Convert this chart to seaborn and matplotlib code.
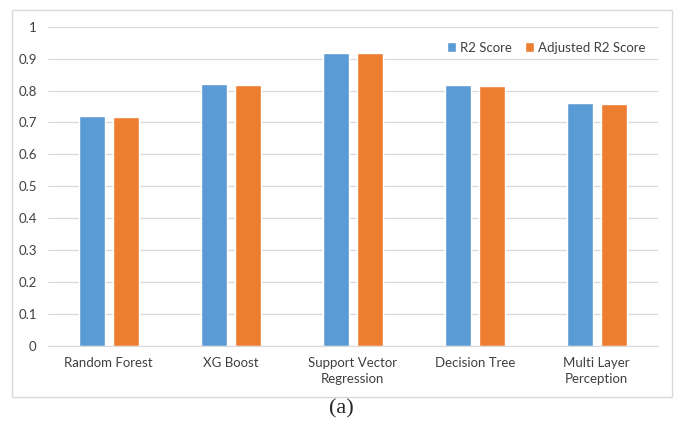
import pandas as pd
import seaborn as sns
import matplotlib
matplotlib.use("Agg")
import matplotlib.pyplot as plt
from matplotlib.patches import Rectangle

# values
models = ["Random Forest", "XG Boost", "Support Vector\nRegression",
          "Decision Tree", "Multi Layer\nPerception"]
r2_score = [0.720, 0.819, 0.918, 0.816, 0.762]
adj_r2_score = [0.718, 0.816, 0.917, 0.813, 0.759]
series_names = ["R2 Score", "Adjusted R2 Score"]
y_ticks = [0, 0.1, 0.2, 0.3, 0.4, 0.5, 0.6, 0.7, 0.8, 0.9, 1]

df = pd.DataFrame({
    "model": models * 2,
    "score": r2_score + adj_r2_score,
    "metric": [series_names[0]] * len(models) + [series_names[1]] * len(models),
})

sns.set_style("white")
plt.rcParams["font.family"] = ["Lato", "DejaVu Sans"]

fig = plt.figure(figsize=(6.83, 4.23), dpi=100)
ax = fig.add_axes([0.070, 0.182, 0.893, 0.755])

# outer chart frame
fig.patches.append(Rectangle((12 / 683, 1 - 397 / 423), 660 / 683, 387 / 423,
                             transform=fig.transFigure, fill=False,
                             edgecolor="#d9d9d9", linewidth=1.0))

sns.barplot(data=df, x="model", y="score", hue="metric", ax=ax,
            palette=["#5B9BD5", "#ED7D31"], width=0.56, gap=0.24,
            saturation=1, errorbar=None)

ax.set_ylim(0, 1)
ax.set_yticks(y_ticks)
ax.set_yticklabels([f"{t:g}" for t in y_ticks])
ax.yaxis.grid(True, color="#d9d9d9", linewidth=0.9)
ax.set_axisbelow(True)
for s in ["top", "right", "left"]:
    ax.spines[s].set_visible(False)
ax.spines["bottom"].set_color("#d9d9d9")
ax.tick_params(axis="both", length=0, labelsize=9.5, colors="#404040", pad=8)
for lbl in ax.get_xticklabels():
    lbl.set_linespacing(1.35)
ax.set_xlabel("")
ax.set_ylabel("")

ax.legend(loc="upper right", ncol=2, frameon=False, fontsize=9.5,
          handlelength=0.7, handleheight=0.7, handletextpad=0.3,
          columnspacing=1.0, labelcolor="#404040",
          bbox_to_anchor=(1.0, 0.99))

fig.text(0.5, 1 - 409 / 423, "(a)", ha="center", va="center",
         fontsize=16, family=["Liberation Serif", "DejaVu Serif"])

fig.savefig("out.png", dpi=100)
